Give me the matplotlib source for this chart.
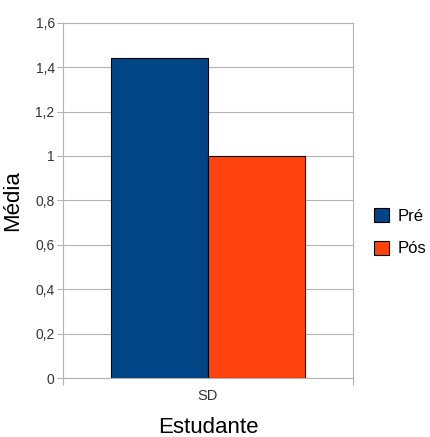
import matplotlib.pyplot as plt
import numpy as np

plt.rcParams['font.family'] = ['Liberation Sans', 'DejaVu Sans']

categories = ['SD']
series = ['Pré', 'Pós']
values = [1.44, 1.0]
colors = ['#004586', '#ff420e']
yticks = [0, 0.2, 0.4, 0.6, 0.8, 1.0, 1.2, 1.4, 1.6]

fig = plt.figure(figsize=(4.3, 4.37), dpi=100)
ax = fig.add_axes([0.1465, 0.135, 0.6745, 0.813])

grey = '#b3b3b3'
width = 1 / 3
x = np.arange(len(categories))
for i, (name, v, c) in enumerate(zip(series, values, colors)):
    ax.bar(x + (i - 0.5) * width, [v], width, color=c, edgecolor='black',
           linewidth=0.8, label=name, zorder=3)

ax.set_xlim(-0.5, 0.5)
ax.set_ylim(0, 1.6)
ax.set_yticks(yticks)
ax.set_yticklabels([('%g' % t).replace('.', ',') for t in yticks])
ax.yaxis.grid(True, color=grey, linewidth=0.8, zorder=0)

ax.set_xticks(x)
ax.set_xticklabels(categories)
ax.set_xticks([-0.5, 0.5], minor=True)
ax.tick_params(axis='x', which='major', length=0, pad=8, labelsize=10.5, labelcolor='#333333')
ax.tick_params(axis='x', which='minor', length=5, color=grey, width=0.8)
ax.tick_params(axis='y', length=4, color=grey, width=0.8, pad=2, labelsize=10, labelcolor='#333333')

for s in ax.spines.values():
    s.set_color(grey)
    s.set_linewidth(0.8)

ax.set_xlabel('Estudante', fontsize=16, labelpad=10)
ax.set_ylabel('Média', fontsize=16, labelpad=9)

ax.legend(loc='center left', bbox_to_anchor=(1.02, 0.41), frameon=False,
          fontsize=12, handlelength=0.9, handleheight=0.9, handletextpad=0.5,
          labelspacing=1.0)

fig.savefig('out.png', dpi=100)
